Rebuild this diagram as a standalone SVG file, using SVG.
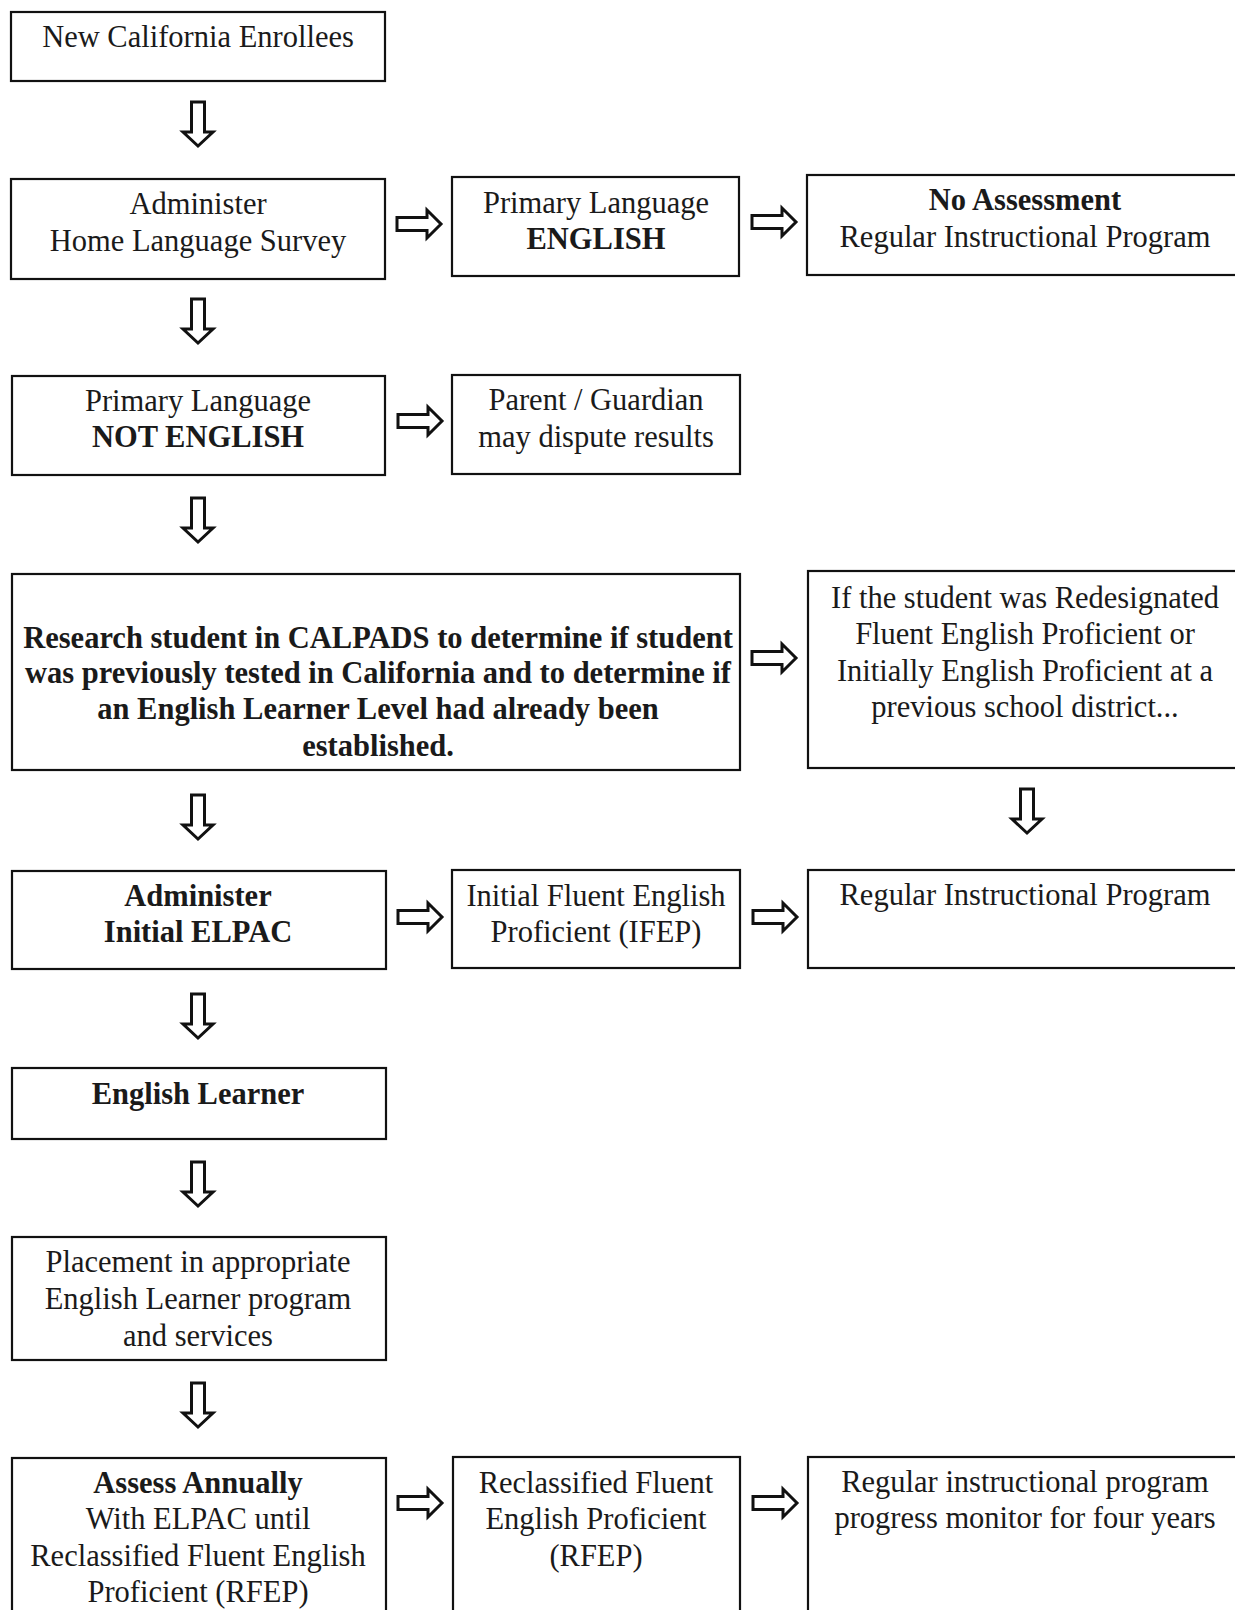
<svg xmlns="http://www.w3.org/2000/svg" xmlns:xlink="http://www.w3.org/1999/xlink" width="1235" height="1610" viewBox="0 0 1235 1610">
<style>
.box{fill:#fff;stroke:#111;stroke-width:2.2}
text{font-family:"Liberation Serif","Times New Roman",serif;font-size:30.5px;fill:#1a1a1a;text-anchor:middle}
.b{font-weight:bold}
.arr{fill:#fff;stroke:#111;stroke-width:3;stroke-linejoin:miter}
</style>
<defs>
<path id="down" d="M -6.5 0 H 6.5 V 30 H 15 L 0 44 L -15 30 H -6.5 Z"/>
<path id="right" d="M 0 -6.5 H 30 V -14 L 44 0 L 30 14 V 6.5 H 0 Z"/>
</defs>
<rect width="1235" height="1610" fill="#fff"/>

<g id="n1"><rect class="box" x="11" y="12" width="374" height="69"/><text x="198" y="47">New California Enrollees</text></g>
<g id="n2"><rect class="box" x="11" y="179" width="374" height="100"/><text x="198" y="214">Administer</text><text x="198" y="251">Home Language Survey</text></g>
<g id="n3"><rect class="box" x="452" y="177" width="287" height="99"/><text x="596" y="213">Primary Language</text><text class="b" x="596" y="249">ENGLISH</text></g>
<g id="n4"><rect class="box" x="807" y="175" width="440" height="100"/><text class="b" x="1025" y="210">No Assessment</text><text x="1025" y="247">Regular Instructional Program</text></g>
<g id="n5"><rect class="box" x="12" y="376" width="373" height="99"/><text x="198" y="411">Primary Language</text><text class="b" x="198" y="447">NOT ENGLISH</text></g>
<g id="n6"><rect class="box" x="452" y="375" width="288" height="99"/><text x="596" y="410">Parent / Guardian</text><text x="596" y="447">may dispute results</text></g>
<g id="n7"><rect class="box" x="12" y="574" width="728" height="196"/><text class="b" x="378" y="648">Research student in CALPADS to determine if student</text><text class="b" x="378" y="683">was previously tested in California and to determine if</text><text class="b" x="378" y="719">an English Learner Level had already been</text><text class="b" x="378" y="756">established.</text></g>
<g id="n8"><rect class="box" x="808" y="571" width="440" height="197"/><text x="1025" y="608">If the student was Redesignated</text><text x="1025" y="644">Fluent English Proficient or</text><text x="1025" y="681">Initially English Proficient at a</text><text x="1025" y="717">previous school district...</text></g>
<g id="n9"><rect class="box" x="12" y="871" width="374" height="98"/><text class="b" x="198" y="906">Administer</text><text class="b" x="198" y="942">Initial ELPAC</text></g>
<g id="n10"><rect class="box" x="452" y="870" width="288" height="98"/><text x="596" y="906">Initial Fluent English</text><text x="596" y="942">Proficient (IFEP)</text></g>
<g id="n11"><rect class="box" x="808" y="870" width="440" height="98"/><text x="1025" y="905">Regular Instructional Program</text></g>
<g id="n12"><rect class="box" x="12" y="1068" width="374" height="71"/><text class="b" x="198" y="1104">English Learner</text></g>
<g id="n13"><rect class="box" x="12" y="1237" width="374" height="123"/><text x="198" y="1272">Placement in appropriate</text><text x="198" y="1309">English Learner program</text><text x="198" y="1346">and services</text></g>
<g id="n14"><rect class="box" x="12" y="1458" width="374" height="200"/><text class="b" x="198" y="1493">Assess Annually</text><text x="198" y="1529">With ELPAC until</text><text x="198" y="1566">Reclassified Fluent English</text><text x="198" y="1602">Proficient (RFEP)</text></g>
<g id="n15"><rect class="box" x="453" y="1457" width="287" height="200"/><text x="596" y="1493">Reclassified Fluent</text><text x="596" y="1529">English Proficient</text><text x="596" y="1566">(RFEP)</text></g>
<g id="n16"><rect class="box" x="808" y="1457" width="440" height="200"/><text x="1025" y="1492">Regular instructional program</text><text x="1025" y="1528">progress monitor for four years</text></g>

<g id="connectors" class="arr">
<use xlink:href="#down" href="#down" x="198" y="102"/>
<use xlink:href="#down" href="#down" x="198" y="299"/>
<use xlink:href="#down" href="#down" x="198" y="498"/>
<use xlink:href="#down" href="#down" x="198" y="795"/>
<use xlink:href="#down" href="#down" x="1027" y="789"/>
<use xlink:href="#down" href="#down" x="198" y="994"/>
<use xlink:href="#down" href="#down" x="198" y="1162"/>
<use xlink:href="#down" href="#down" x="198" y="1383"/>
<use xlink:href="#right" href="#right" x="397" y="224"/>
<use xlink:href="#right" href="#right" x="752" y="222"/>
<use xlink:href="#right" href="#right" x="398" y="421"/>
<use xlink:href="#right" href="#right" x="752" y="658"/>
<use xlink:href="#right" href="#right" x="398" y="917"/>
<use xlink:href="#right" href="#right" x="753" y="917"/>
<use xlink:href="#right" href="#right" x="398" y="1503"/>
<use xlink:href="#right" href="#right" x="753" y="1503"/>
</g>
</svg>
